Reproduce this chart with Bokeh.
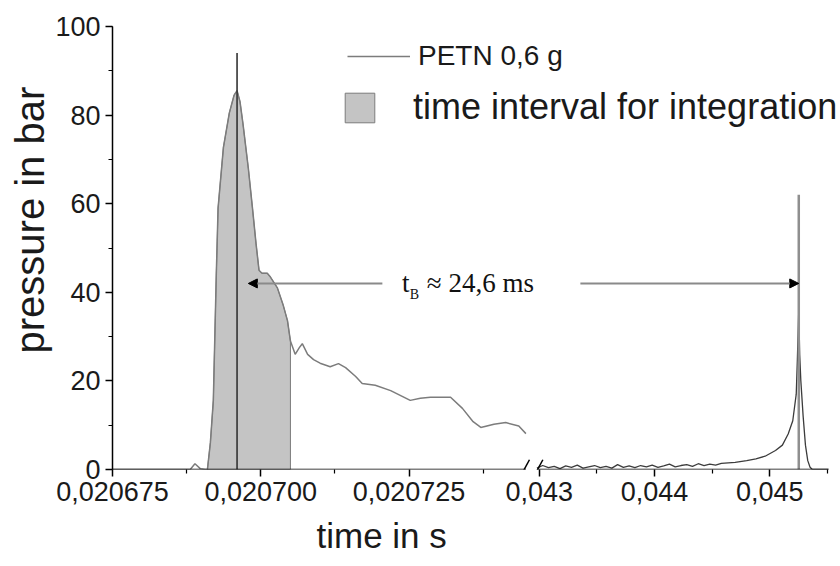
import numpy as np
from bokeh.plotting import figure
from bokeh.models import (Range1d, FixedTicker, SingleIntervalTicker, Arrow, NormalHead,
                          Label, Legend, LegendItem, Title)
from bokeh.embed import file_html
from bokeh.resources import INLINE

# ---------------- data ----------------
# first segment of the record (time in s, pressure in bar)
left_time = [0.0206750, 0.0206813, 0.0206872, 0.0206881, 0.0206889, 0.0206898, 0.0206906,
             0.0206910, 0.0206915, 0.0206920, 0.0206925, 0.0206928, 0.0206937, 0.0206947,
             0.0206955, 0.0206960, 0.0206965, 0.0206970, 0.0206979, 0.0206986, 0.0206992,
             0.0206997, 0.0207002, 0.0207011, 0.0207016, 0.0207028, 0.0207038, 0.0207045,
             0.0207050, 0.0207058, 0.0207065, 0.0207070, 0.0207079, 0.0207089, 0.0207100,
             0.0207117, 0.0207131, 0.0207143, 0.0207160, 0.0207171, 0.0207193, 0.0207219,
             0.0207252, 0.0207269, 0.0207286, 0.0207320, 0.0207340, 0.0207358, 0.0207371,
             0.0207393, 0.0207413, 0.0207435, 0.0207447]
left_pressure = [0, 0, 0, 0, 1.3, 0.2, 0,
                 0, 6, 15.6, 44, 59, 72.7, 80.5,
                 84.5, 85.5, 83, 78, 68, 59, 51,
                 45, 44.3, 44.3, 43.5, 41, 37, 33.6,
                 29, 26, 27.5, 28.4, 26, 24.8, 24,
                 23.2, 23.9, 23, 21, 19.4, 19, 17.8,
                 15.6, 16.1, 16.3, 16.3, 13.8, 10.8, 9.5,
                 10.2, 10.6, 9.8, 8.1]

# second segment of the record (reflected pulse)
right_time = [0.04298, 0.04303, 0.04308, 0.04313, 0.04318, 0.04323, 0.04328, 0.04333,
              0.04338, 0.04343, 0.04348, 0.04353, 0.04358, 0.04363, 0.04368, 0.04373,
              0.04378, 0.04383, 0.04388, 0.04393, 0.04398, 0.04403, 0.04408, 0.04413,
              0.04418, 0.04423, 0.04428, 0.04433, 0.04438, 0.04443, 0.04448, 0.04453,
              0.04458, 0.04470, 0.04480, 0.04488, 0.04496, 0.04505, 0.04511, 0.04516,
              0.04520, 0.04523, 0.04524, 0.045252, 0.04526, 0.04527, 0.04529, 0.04531,
              0.04533, 0.04535, 0.04537, 0.04551]
right_pressure = [0.3, 0.9, 0.4, 0.7, 0.2, 0.8, 0.5, 1.0,
                  0.3, 0.6, 0.9, 0.4, 0.7, 0.3, 1.1, 0.5,
                  0.8, 0.4, 0.9, 0.6, 1.0, 0.5, 0.8, 1.2,
                  0.6, 0.9, 1.1, 0.7, 1.3, 0.9, 1.2, 1.0,
                  1.4, 1.6, 2.0, 2.4, 3.0, 4.3, 5.5, 8.0,
                  11.0, 17.0, 25.0, 36.0, 26.0, 20.0, 12.0, 5.5,
                  2.0, 0.5, 0.0, 0.0]

# integration interval
INT_START, INT_END = 0.0206910, 0.0207050

# vertical marker lines (time, height)
marker_time = [0.0206960, 0.045252]
marker_height = [94, 62]

# time-of-flight arrow
ARROW_P = 42
arrow_tail_left, arrow_head_left = 0.0207205, 0.0206979
arrow_tail_right, arrow_head_right = 0.043357, 0.045252

# axis ticks
x_major_vals = [0.020675, 0.020700, 0.020725, 0.043, 0.044, 0.045]
x_major_labels = ["0,020675", "0,020700", "0,020725", "0,043", "0,044", "0,045"]
x_minor_vals = [0.0206875, 0.0207125, 0.0207375, 0.0435, 0.0445, 0.0455]

# ---------------- broken time axis ----------------
LEFT_START, LEFT_END = 0.020675, 0.0207447
RIGHT_START, RIGHT_END = 0.04298, 0.04551
GAP = 1.86
RIGHT_U_PER_MS = 19.43
LEFT_LEN = (LEFT_END - LEFT_START) * 1e6


def to_u(t):
    t = np.asarray(t, dtype=float)
    return np.where(t < 0.03, (t - LEFT_START) * 1e6,
                    LEFT_LEN + GAP + (t - RIGHT_START) * 1e3 * RIGHT_U_PER_MS)


U_END = float(to_u(RIGHT_END))
AXIS_PX = 716          # drawn length of the broken axis
FRAME_PX = 728         # frame extends a little beyond the axis end (legend text overhangs)
U_VIEW_END = U_END * FRAME_PX / AXIS_PX

FONT = "Liberation Sans"
SERIF = "Liberation Serif"

p = figure(frame_width=FRAME_PX, frame_height=443,
           x_range=Range1d(0, U_VIEW_END), y_range=Range1d(0, 100),
           output_backend="svg", toolbar_location=None,
           min_border_left=112, min_border_right=0, min_border_top=26, min_border_bottom=97)
p.outline_line_color = None
p.grid.visible = False

lt = np.array(left_time)
lp = np.array(left_pressure)
mask = (lt >= INT_START) & (lt <= INT_END)
patch_t = np.concatenate([[INT_START], lt[mask], [INT_END]])
patch_p = np.concatenate([[0.0], lp[mask], [0.0]])

r_patch = p.patch(to_u(patch_t), patch_p, fill_color="#c4c4c4", line_color="#7c7c7c", line_width=1)
r_left = p.line(to_u(left_time), left_pressure, line_color="#7c7c7c", line_width=1.5)
r_right = p.line(to_u(right_time), right_pressure, line_color="#3c3c3c", line_width=1.3)

p.segment(x0=to_u(marker_time[:1]), y0=[0], x1=to_u(marker_time[:1]), y1=marker_height[:1],
          line_color="#333333", line_width=1.6)
p.segment(x0=to_u(marker_time[1:]), y0=[0], x1=to_u(marker_time[1:]), y1=marker_height[1:],
          line_color="#8f8f8f", line_width=2.5)

# arrows
p.add_layout(Arrow(end=NormalHead(size=9, fill_color="black", line_color="black"),
                   x_start=float(to_u(arrow_tail_left)), y_start=ARROW_P,
                   x_end=float(to_u(arrow_head_left)), y_end=ARROW_P,
                   line_color="#8a8a8a", line_width=2))
p.add_layout(Arrow(end=NormalHead(size=9, fill_color="black", line_color="black"),
                   x_start=float(to_u(arrow_tail_right)), y_start=ARROW_P,
                   x_end=float(to_u(arrow_head_right)), y_end=ARROW_P,
                   line_color="#8a8a8a", line_width=2))

# t_B label
p.add_layout(Label(x=float(to_u(0.0207238)), y=42, text="t", text_font=SERIF,
                   text_font_size="27px", text_color="#111111", text_baseline="alphabetic"))
p.add_layout(Label(x=float(to_u(0.0207251)), y=39.6, text="B", text_font=SERIF,
                   text_font_size="14px", text_color="#111111", text_baseline="alphabetic"))
p.add_layout(Label(x=float(to_u(0.0207280)), y=42, text="\u2248 24,6 ms", text_font=SERIF,
                   text_font_size="27px", text_color="#111111", text_baseline="alphabetic"))

# broken x-axis baseline and break marks
p.xaxis.axis_line_color = None
for xs, xe in [(0.0, LEFT_LEN), (LEFT_LEN + GAP, U_END)]:
    p.add_layout(Arrow(start=None, end=None, x_start=xs, y_start=0, x_end=xe, y_end=0,
                       line_color="black", line_width=1.5))
for xc in [LEFT_LEN - 0.2, LEFT_LEN + GAP + 0.2]:
    p.add_layout(Arrow(start=None, end=None, x_start=xc - 0.7, y_start=-1.5, x_end=xc + 0.8,
                       y_end=2.2, line_color="black", line_width=1.5))

# x axis ticks
major_u = [round(float(v), 6) for v in to_u(x_major_vals)]
minor_u = [round(float(v), 6) for v in to_u(x_minor_vals)]
p.xaxis.ticker = FixedTicker(ticks=major_u, minor_ticks=minor_u)
p.xaxis.major_label_overrides = dict(zip(major_u, x_major_labels))

p.yaxis.ticker = SingleIntervalTicker(interval=20, num_minor_ticks=2)
p.yaxis.axis_line_width = 1.5
p.yaxis.axis_line_color = "black"

for ax in (p.xaxis, p.yaxis):
    ax.major_label_text_font = FONT
    ax.major_label_text_font_size = "27px"
    ax.major_label_text_color = "#1a1a1a"
    ax.major_tick_out = 7
    ax.major_tick_in = 0
    ax.minor_tick_out = 4
    ax.minor_tick_in = 0
    ax.major_tick_line_width = 1.5
    ax.minor_tick_line_width = 1.2
    ax.major_tick_line_color = "black"
    ax.minor_tick_line_color = "black"
    ax.major_label_standoff = 5

# axis titles
p.add_layout(Title(text="time in s", align="left", offset=204, text_font=FONT,
                   text_font_size="35px", text_font_style="normal", text_color="#1a1a1a",
                   standoff=20), "below")
p.add_layout(Title(text="pressure in bar", align="left", offset=116, text_font=FONT,
                   text_font_size="40px", text_font_style="normal", text_color="#1a1a1a",
                   standoff=2), "left")

# legends
lg1 = Legend(items=[LegendItem(label="PETN 0,6 g", renderers=[r_left])],
             location=(235, 397), glyph_width=63, glyph_height=20, label_standoff=8,
             label_text_font=FONT, label_text_font_size="28px", label_text_color="#1a1a1a",
             padding=0, margin=0, spacing=0, border_line_color=None, background_fill_alpha=0)
lg2 = Legend(items=[LegendItem(label="time interval for integration", renderers=[r_patch])],
             location=(229, 341), glyph_width=37, glyph_height=37, label_standoff=35,
             label_text_font=FONT, label_text_font_size="36px", label_text_color="#1a1a1a",
             padding=0, margin=0, spacing=0, border_line_color=None, background_fill_alpha=0)
p.add_layout(lg1)
p.add_layout(lg2)

open("out.html", "w").write(file_html(p, INLINE))
